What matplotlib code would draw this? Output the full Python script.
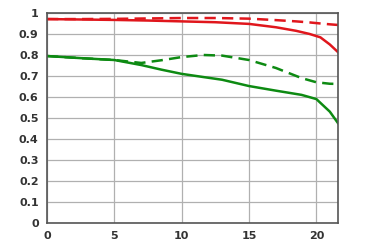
import matplotlib
matplotlib.use('Agg')
from matplotlib import pyplot as plt

# image height (mm) and MTF values
x_red = [0, 2.5, 5, 7.5, 10, 12.5, 15, 17, 18.5, 19.5, 20.3, 21, 21.6]
red_s = [0.971, 0.969, 0.967, 0.964, 0.960, 0.956, 0.948, 0.932, 0.915, 0.900, 0.884, 0.850, 0.814]
red_d = [0.971, 0.971, 0.972, 0.974, 0.976, 0.976, 0.973, 0.966, 0.960, 0.955, 0.950, 0.946, 0.943]

x_green = [0, 2.5, 5, 7, 8.5, 10, 11.6, 13, 15, 17, 18.9, 20, 21, 21.6]
green_s = [0.795, 0.785, 0.776, 0.752, 0.730, 0.710, 0.695, 0.682, 0.652, 0.630, 0.610, 0.590, 0.530, 0.476]
green_d = [0.795, 0.785, 0.776, 0.762, 0.775, 0.790, 0.800, 0.797, 0.776, 0.738, 0.690, 0.670, 0.663, 0.662]

fig = plt.figure(figsize=(3.92, 2.45), dpi=100)
ax = fig.add_axes([0.12, 0.09, 0.742, 0.857])

ax.plot(x_red, red_s, c='#e0161c', lw=1.8)
ax.plot(x_red, red_d, c='#e0161c', lw=1.8, dashes=(4.5, 2.5))
ax.plot(x_green, green_s, c='#0d8a12', lw=1.8)
ax.plot(x_green, green_d, c='#0d8a12', lw=1.8, dashes=(4.5, 2.5))

ax.set_xlim(0, 21.6)
ax.set_ylim(0, 1)
ax.set_xticks([0, 5, 10, 15, 20])
ax.set_yticks([i / 10 for i in range(11)])
ax.set_yticklabels(['0', '0.1', '0.2', '0.3', '0.4', '0.5', '0.6', '0.7', '0.8', '0.9', '1'])
ax.grid(True, color='#b0b0b0', lw=0.9)
ax.set_axisbelow(True)
for s in ax.spines.values():
    s.set_color('#555555')
    s.set_linewidth(1.2)
ax.tick_params(length=0, labelsize=8, labelcolor='#333333', pad=6)
for lbl in ax.get_xticklabels() + ax.get_yticklabels():
    lbl.set_fontweight('semibold')

plt.savefig('out.png', dpi=100)
